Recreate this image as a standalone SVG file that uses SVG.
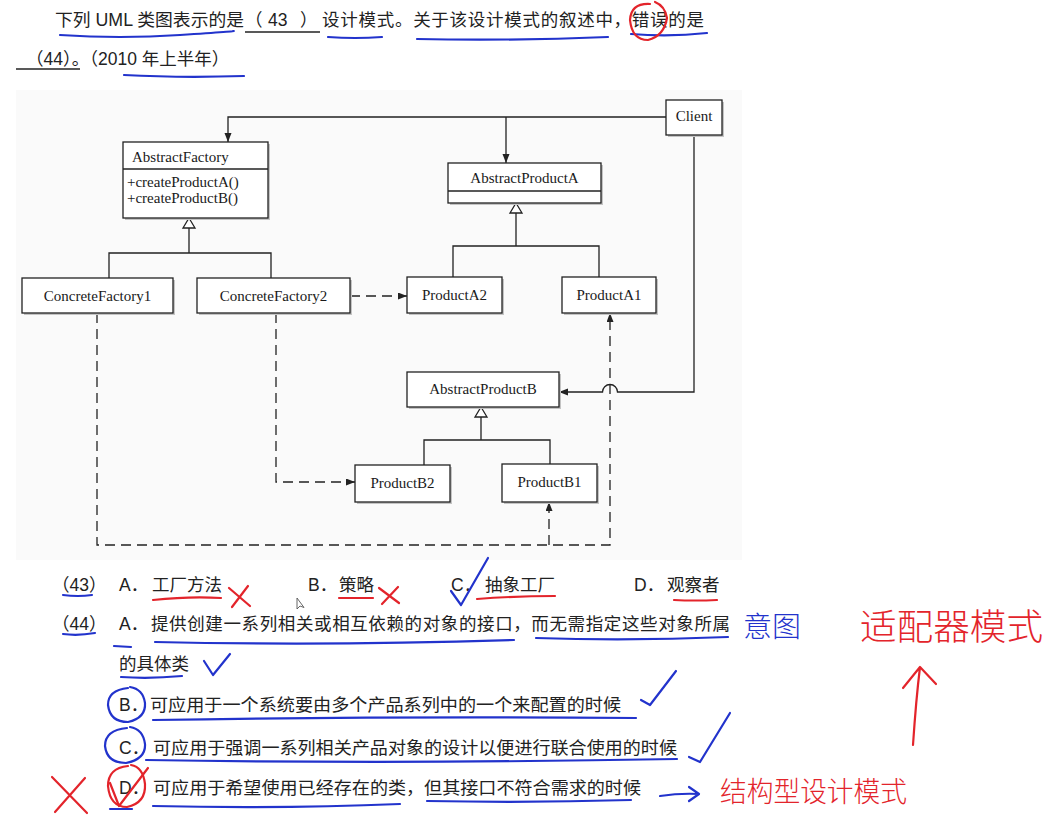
<svg xmlns="http://www.w3.org/2000/svg" width="1050" height="829" viewBox="0 0 1050 829">
<style>
.bx{fill:#fff;stroke:#222;stroke-width:1.3}
.sh{fill:#c4c4c4}
.lbl{font-family:"Liberation Serif","Times New Roman",serif;font-size:15px;fill:#1a1a1a}
.mid{text-anchor:middle}
.ln{fill:none;stroke:#222;stroke-width:1.3}
.dash{fill:none;stroke:#222;stroke-width:1.3;stroke-dasharray:10 6}
.gen{fill:#fff;stroke:#222;stroke-width:1.3}
.tx{font-family:"Liberation Sans","Noto Sans CJK SC",sans-serif;font-size:17.5px;fill:#222}
.blue{fill:none;stroke:#2233cc;stroke-width:2.2;stroke-linecap:round;stroke-linejoin:round}
.red{fill:none;stroke:#e3242b;stroke-width:2.2;stroke-linecap:round;stroke-linejoin:round}
.hw-r{font-family:"Noto Sans CJK SC",sans-serif;fill:#e3242b;font-weight:300}
.hw-b{font-family:"Noto Sans CJK SC",sans-serif;fill:#2233cc;font-weight:300}
</style>
<defs>
<marker id="arr" markerUnits="userSpaceOnUse" markerWidth="10" markerHeight="8" refX="9" refY="3.5" orient="auto">
<path d="M0,0 L9,3.5 L0,7 z" fill="#222"/>
</marker>
</defs>
<rect width="1050" height="829" fill="#fff"/>
<rect x="16" y="90" width="726" height="470" fill="#fafafa"/>

<!-- question text -->
<g id="question">
<text class="tx" x="55" y="26" textLength="189" lengthAdjust="spacingAndGlyphs">下列 UML 类图表示的是</text>
<text class="tx" y="26"><tspan x="245">（</tspan><tspan x="268">43</tspan><tspan x="300">）</tspan></text>
<line x1="245" y1="32" x2="320" y2="32" stroke="#222" stroke-width="1.5"/>
<text class="tx" x="322" y="26" textLength="382" lengthAdjust="spacing">设计模式。关于该设计模式的叙述中，错误的是</text>
<text class="tx" x="26" y="65">（44）。（2010 年上半年）</text>
<line x1="16" y1="69" x2="80" y2="69" stroke="#222" stroke-width="1.5"/>
</g>

<!-- connectors -->
<g id="connectors">
<path class="ln" d="M666,117 H228 V142" marker-end="url(#arr)"/>
<path class="ln" d="M506,117 V163" marker-end="url(#arr)"/>
<path class="ln" d="M694,135 V392 H617.5 A7.5,7.5 0 0 0 602.5,392 H559" marker-end="url(#arr)"/>
<path class="ln" d="M189,228 V253 M109,278 V253 H271 V278"/>
<path class="gen" d="M189,218 L195,228 L183,228 Z"/>
<path class="ln" d="M516,213 V246 M453,277 V246 H599 V277"/>
<path class="gen" d="M516,203 L522,213 L510,213 Z"/>
<path class="ln" d="M481,417 V440 M424,465 V440 H550 V464"/>
<path class="gen" d="M481,407 L487,417 L475,417 Z"/>
<path class="dash" d="M350,296 H407" marker-end="url(#arr)"/>
<path class="dash" d="M276,313 V482 H355" marker-end="url(#arr)"/>
<path class="dash" d="M97,313 V545 H610 V313" marker-end="url(#arr)"/>
<path class="dash" d="M549,545 V502" marker-end="url(#arr)"/>
</g>

<!-- nodes -->
<g id="AbstractFactory">
<rect class="sh" x="125" y="144" width="145" height="76"/>
<rect class="bx" x="123" y="142" width="145" height="76"/>
<line class="ln" x1="123" y1="169" x2="268" y2="169"/>
<text class="lbl" x="132" y="162">AbstractFactory</text>
<text class="lbl" x="127" y="187">+createProductA()</text>
<text class="lbl" x="127" y="203">+createProductB()</text>
</g>
<g id="Client">
<rect class="sh" x="668" y="102" width="56" height="35"/>
<rect class="bx" x="666" y="100" width="56" height="35"/>
<text class="lbl mid" x="694" y="121">Client</text>
</g>
<g id="AbstractProductA">
<rect class="sh" x="450" y="165" width="153" height="40"/>
<rect class="bx" x="448" y="163" width="153" height="40"/>
<line class="ln" x1="448" y1="191" x2="601" y2="191"/>
<text class="lbl mid" x="524.5" y="183">AbstractProductA</text>
</g>
<g id="ConcreteFactory1">
<rect class="sh" x="24" y="280" width="151" height="35"/>
<rect class="bx" x="22" y="278" width="151" height="35"/>
<text class="lbl mid" x="97.5" y="301">ConcreteFactory1</text>
</g>
<g id="ConcreteFactory2">
<rect class="sh" x="199" y="280" width="153" height="35"/>
<rect class="bx" x="197" y="278" width="153" height="35"/>
<text class="lbl mid" x="273.5" y="301">ConcreteFactory2</text>
</g>
<g id="ProductA2">
<rect class="sh" x="409" y="279" width="95" height="36"/>
<rect class="bx" x="407" y="277" width="95" height="36"/>
<text class="lbl mid" x="454.5" y="300">ProductA2</text>
</g>
<g id="ProductA1">
<rect class="sh" x="564" y="279" width="94" height="36"/>
<rect class="bx" x="562" y="277" width="94" height="36"/>
<text class="lbl mid" x="609" y="300">ProductA1</text>
</g>
<g id="AbstractProductB">
<rect class="sh" x="409" y="374" width="152" height="35"/>
<rect class="bx" x="407" y="372" width="152" height="35"/>
<text class="lbl mid" x="483" y="394">AbstractProductB</text>
</g>
<g id="ProductB2">
<rect class="sh" x="357" y="467" width="95" height="37"/>
<rect class="bx" x="355" y="465" width="95" height="37"/>
<text class="lbl mid" x="402.5" y="488">ProductB2</text>
</g>
<g id="ProductB1">
<rect class="sh" x="504" y="466" width="95" height="38"/>
<rect class="bx" x="502" y="464" width="95" height="38"/>
<text class="lbl mid" x="549.5" y="487">ProductB1</text>
</g>

<!-- options -->
<g id="options">
<text class="tx" x="52" y="591">（43）</text>
<text class="tx" x="119" y="591">A．</text><text class="tx" x="152" y="591">工厂方法</text>
<text class="tx" x="308" y="591">B．</text><text class="tx" x="339" y="591">策略</text>
<text class="tx" x="451" y="591">C．</text><text class="tx" x="485" y="591">抽象工厂</text>
<text class="tx" x="634" y="591">D．</text><text class="tx" x="667" y="591">观察者</text>
<text class="tx" x="52" y="630">（44）</text>
<text class="tx" x="119" y="630">A．</text>
<text class="tx" x="151" y="630" textLength="579" lengthAdjust="spacing">提供创建一系列相关或相互依赖的对象的接口，而无需指定这些对象所属</text>
<text class="tx" x="119" y="670">的具体类</text>
<text class="tx" x="119" y="711">B．</text>
<text class="tx" x="150" y="711" textLength="471" lengthAdjust="spacingAndGlyphs">可应用于一个系统要由多个产品系列中的一个来配置的时候</text>
<text class="tx" x="119" y="754">C．</text>
<text class="tx" x="153" y="754" textLength="524" lengthAdjust="spacingAndGlyphs">可应用于强调一系列相关产品对象的设计以便进行联合使用的时候</text>
<text class="tx" x="119" y="794">D．</text>
<text class="tx" x="153" y="794" textLength="488" lengthAdjust="spacingAndGlyphs">可应用于希望使用已经存在的类，但其接口不符合需求的时候</text>
<path d="M297,598 L297,609 L300,606 L304,607.5 Z" fill="#fff" stroke="#555" stroke-width="0.9"/>
</g>

<!-- annotations -->
<g id="annotations">
<path class="blue" d="M60,35 Q120,39 180,35 T233,31"/>
<path class="blue" d="M328,37 Q355,39 382,37"/>
<path class="blue" d="M417,39 Q510,41 608,37"/>
<path class="blue" d="M631,34 Q670,37 707,33"/>
<path class="red" d="M650,4 Q631,3 630,20 Q632,40 648,40 Q664,36 667,18 Q665,6 655,2"/>
<path class="blue" d="M124,75 Q180,78 244,76"/>

<path class="blue" d="M63,595 Q78,597 92,595"/>
<path class="red" d="M153,600 Q190,596 221,598"/>
<path class="red" d="M229,588 L250,606 M248,586 L232,607"/>
<path class="red" d="M339,598 L373,598"/>
<path class="red" d="M379,588 L399,603 M398,587 L382,604"/>
<path class="blue" d="M451,591 L461,605 L488,558"/>
<path class="red" d="M477,599 Q515,596 555,596"/>
<path class="red" d="M674,600 Q695,601 717,600"/>

<path class="blue" d="M63,634 Q78,636 95,633"/>
<path class="blue" d="M114,646 L131,647"/>
<path class="blue" d="M155,642 Q330,646 514,640"/>
<path class="blue" d="M536,638 Q630,641 728,637"/>
<text class="hw-b" x="743" y="637" font-size="28" textLength="58" lengthAdjust="spacingAndGlyphs">意图</text>

<path class="blue" d="M121,677 Q150,679 182,676"/>
<path class="blue" d="M204,661 L213,675 L230,654"/>

<path class="blue" d="M128,688 Q108,690 108,705 Q110,722 128,722 Q146,718 145,703 Q143,689 130,687"/>
<path class="blue" d="M153,720 Q400,716 636,718"/>
<path class="blue" d="M641,700 L650,705 L676,671"/>

<path class="blue" d="M127,728 Q105,730 105,746 Q107,763 126,763 Q146,759 145,744 Q143,729 130,727"/>
<path class="blue" d="M146,760 Q400,764 677,759"/>
<path class="blue" d="M689,757 L700,762 L730,713"/>

<path class="red" d="M128,766 Q108,768 108,786 Q110,807 127,807 Q146,803 145,784 Q143,767 131,765"/>
<path class="red" d="M110,783 L119,806 L148,768"/>
<path class="red" d="M52,777 L87,813 M85,778 L55,812"/>
<path class="blue" d="M110,809 L132,809"/>
<path class="blue" d="M153,806 Q280,809 400,804"/>
<path class="blue" d="M427,801 Q530,803 631,800"/>
<path class="blue" d="M660,796 Q680,793 699,794 M689,787 L699,794 L689,801"/>

<text class="hw-r" x="720" y="802" font-size="28" textLength="187" lengthAdjust="spacingAndGlyphs">结构型设计模式</text>
<path class="red" d="M913,745 Q916,700 920,667 M903,688 L920,667 L936,684"/>
<text class="hw-r" x="860" y="640" font-size="36" textLength="183" lengthAdjust="spacingAndGlyphs">适配器模式</text>
</g>
</svg>
